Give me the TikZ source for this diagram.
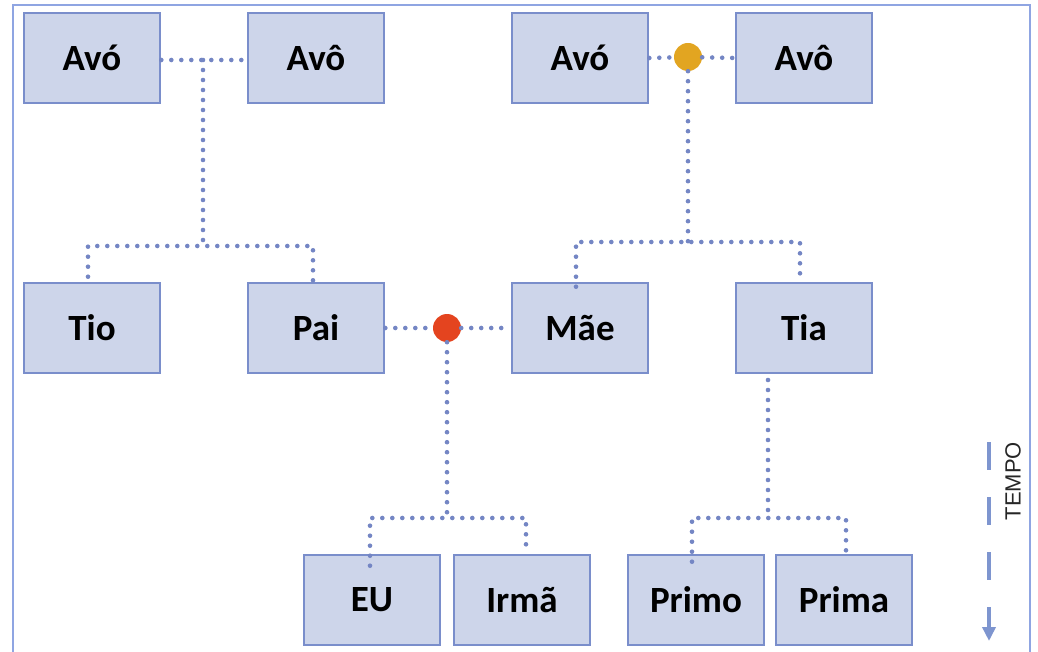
\documentclass[tikz,border=0pt]{standalone}
\usepackage{fontspec}
\setmainfont{Carlito}
\newfontfamily\tempofont{Liberation Sans}
\usetikzlibrary{arrows.meta}
\definecolor{boxfill}{HTML}{CDD5EA}
\definecolor{boxline}{HTML}{7A8ECB}
\definecolor{dotline}{HTML}{7486C4}
\definecolor{frameline}{HTML}{8FA5E2}
\definecolor{gold}{HTML}{E2A521}
\definecolor{redorange}{HTML}{E4441F}
\definecolor{arrowblue}{HTML}{7E95CF}
\begin{document}
\begin{tikzpicture}[x=1pt,y=-1pt,
  person/.style={draw=boxline,line width=2.6pt,fill=boxfill,minimum width=136pt,minimum height=90pt,inner sep=0pt,
    font=\fontsize{37}{42}\selectfont\bfseries,text=black},
  link/.style={draw=dotline,line width=4.6pt,line cap=round,dash pattern=on 0pt off 10pt},
  union/.style={circle,inner sep=0pt,minimum size=28pt}]
\useasboundingbox (0,0) rectangle (1038,652);
% outer frame (open at the bottom)
\draw[frameline,line width=2pt] (13,660) -- (13,5) -- (1030,5) -- (1030,660);

% grandparents
\node[person] (avo1) at (92,58) {Avó};
\node[person] (avoo1) at (316,58) {Avô};
\node[person] (avo2) at (580,58) {Avó};
\node[person] (avoo2) at (804,58) {Avô};
% parents generation
\node[person] (tio) at (92,328) {Tio};
\node[person] (pai) at (316,328) {Pai};
\node[person] (mae) at (580,328) {Mãe};
\node[person] (tia) at (804,328) {Tia};
% children
\node[person] (eu) at (372,600) {EU};
\node[person] (irma) at (522,600) {Irmã};
\node[person] (primo) at (696,600) {Primo};
\node[person] (prima) at (844,600) {Prima};

% union markers
\node[union,fill=gold] (u2) at (688,57) {};
\node[union,fill=redorange] (u3) at (447,328) {};

% junction points
\coordinate (j1) at (203,60);
\coordinate (b1) at (203,246);
\coordinate (b2) at (688,242);
\coordinate (b3) at (447,518);
\coordinate (t4) at (768,380);
\coordinate (b4) at (768,518);

% left couple
\draw[link] (avo1.east|-j1) -- (avoo1.west|-j1);
\draw[link] (j1) -- (b1);
\draw[link] (tio.north) ++(-4,-5) -- (88,246) -- (313,246) -- ([xshift=-3pt]pai.north);
% right couple
\draw[link] (avo2.east) -- (u2);
\draw[link] (u2) -- (avoo2.west);
\draw[link] (u2) -- (b2);
\draw[link] ([xshift=-4pt,yshift=-5pt]mae.north) -- (576,242) -- (800,242) -- ([xshift=-4pt]tia.north);
% parents
\draw[link] (pai.east) -- (u3);
\draw[link] (u3) -- (mae.west);
\draw[link] (u3) -- (b3);
\draw[link] ([xshift=-2pt,yshift=-12pt]eu.north) -- (370,518) -- (526,518) -- ([xshift=4pt]irma.north);
% aunt
\draw[link] (t4) -- (b4);
\draw[link] ([xshift=-4pt,yshift=-8pt]primo.north) -- (692,518) -- (846,518) -- ([xshift=2pt]prima.north);

% time axis
\coordinate (ta) at (989,442);
\coordinate (tb) at (989,641);
\draw[arrowblue,line width=4pt,dash pattern=on 28pt off 27pt,-{Triangle[length=14pt,width=13pt]}] (ta) -- (tb);
\node[rotate=90,font=\tempofont\fontsize{22}{24}\selectfont,text=black!85] (tempo) at (1013,481) {TEMPO};
\end{tikzpicture}
\end{document}
